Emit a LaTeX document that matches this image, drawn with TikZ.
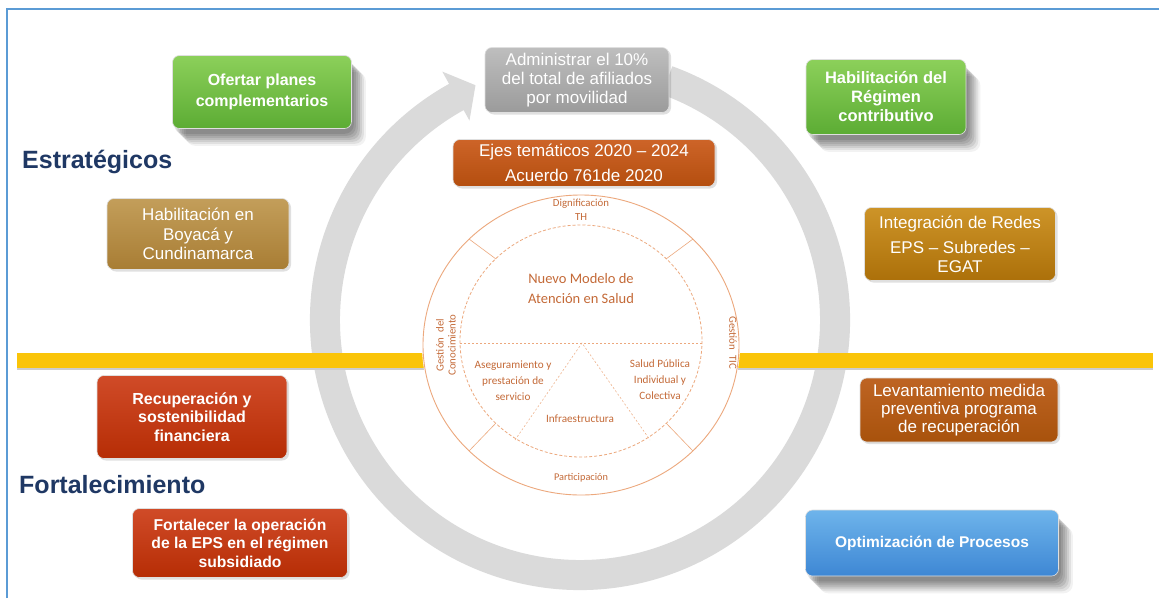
\documentclass[tikz,border=0pt]{standalone}
\usepackage{fontspec}
\setmainfont{Liberation Sans}
\newfontfamily\carl{Carlito}
\usetikzlibrary{shadows}
\pgfdeclarelayer{bglayer}
\pgfdeclarelayer{shadowlayer}
\pgfsetlayers{bglayer,shadowlayer,main}
\definecolor{navy}{RGB}{31,56,100}
\definecolor{framec}{RGB}{91,155,213}
\definecolor{ringc}{RGB}{218,218,218}
\definecolor{barc}{RGB}{250,196,8}
\definecolor{circc}{RGB}{236,168,125}
\definecolor{circt}{RGB}{196,106,56}
\definecolor{gTop}{RGB}{140,208,90}
\definecolor{gBot}{RGB}{92,172,52}
\definecolor{grTop}{RGB}{190,190,190}
\definecolor{grBot}{RGB}{155,155,155}
\definecolor{oTop}{RGB}{205,100,40}
\definecolor{oBot}{RGB}{180,78,15}
\definecolor{tTop}{RGB}{195,158,90}
\definecolor{tBot}{RGB}{168,125,52}
\definecolor{yTop}{RGB}{205,148,40}
\definecolor{yBot}{RGB}{172,112,10}
\definecolor{rTop}{RGB}{208,75,40}
\definecolor{rBot}{RGB}{182,45,5}
\definecolor{bTop}{RGB}{190,100,35}
\definecolor{bBot}{RGB}{168,82,12}
\definecolor{blTop}{RGB}{110,180,235}
\definecolor{blBot}{RGB}{62,135,212}
\tikzset{
  box/.style={rounded corners=7pt, align=center, text=white, inner sep=0pt,
    draw=white!75!gray, line width=0.6pt},
  smallshadow/.style={drop shadow={shadow xshift=2pt, shadow yshift=-2pt, fill=black, opacity=0.12}},
  ctext/.style={text=circt, align=center, inner sep=0pt},
  heading/.style={text=navy, font=\bfseries\fontsize{25}{30}\selectfont, inner sep=0pt, anchor=west},
}
\begin{document}
\begin{tikzpicture}[x=1pt,y=-1pt]
\useasboundingbox (0,0) rectangle (1159,598);
\begin{pgfonlayer}{bglayer}
\fill[white] (0,0) rectangle (1159,598);
\end{pgfonlayer}
% frame
\draw[framec, line width=2pt] (7,598) -- (7,9) -- (1159,9);
% circular arrow
\begin{scope}[shift={(580,320)}]
\fill[ringc] (-70:270) arc[start angle=-70, end angle=241, radius=270]
  -- (241:284) -- (246:257) -- (241:228) -- (241:240)
  arc[start angle=241, end angle=-70, radius=240] -- cycle;
\end{scope}
% yellow bar
\fill[gray!40] (17,357) rectangle (1153,370);
\fill[barc] (17,353) rectangle (1153,368);
% inner circle
\fill[white] (581,345) ellipse[x radius=159, y radius=151];
\draw[circc, line width=0.9pt] (581,345) ellipse[x radius=158, y radius=150];
\draw[circc, line width=0.8pt, dash pattern=on 3pt off 2pt] (581,341) ellipse[x radius=121, y radius=116];
\draw[circc, line width=0.5pt, dash pattern=on 2pt off 2pt] (460,343) -- (702,343);
\draw[circc, line width=0.5pt, dash pattern=on 2pt off 2pt] (515,440) -- (582,343) -- (650,440);
\draw[circc, line width=0.6pt] (469,239) -- (496,259);
\draw[circc, line width=0.6pt] (693,239) -- (666,259);
\draw[circc, line width=0.6pt] (469,451) -- (496,423);
\draw[circc, line width=0.6pt] (693,451) -- (666,423);
% circle texts
\node[ctext, font=\carl\fontsize{10.8}{14}\selectfont] (dig) at (581,210) {Dignificación\\TH};
\node[ctext, font=\carl\fontsize{10.3}{12}\selectfont] (par) at (581,478) {Participación};
\node[ctext, font=\carl\fontsize{10.8}{12}\selectfont, rotate=90] (gc) at (446,345) {Gestión\enspace del\\Conocimiento};
\node[ctext, font=\carl\fontsize{10.8}{12}\selectfont, rotate=-90] (gt) at (733,343) {Gestión\enspace TIC};
\node[ctext, font=\carl\fontsize{14.5}{20}\selectfont] (nm) at (581,289) {Nuevo Modelo de\\Atención en Salud};
\node[ctext, font=\carl\fontsize{11.2}{16}\selectfont] (as) at (513,381) {Aseguramiento y\\prestación de\\servicio};
\node[ctext, font=\carl\fontsize{11.2}{16}\selectfont] (sp) at (660,380) {Salud Pública\\Individual y\\Colectiva};
\node[ctext, font=\carl\fontsize{11.2}{12}\selectfont] (inf) at (580,419) {Infraestructura};
% headings
\node[heading] (est) at (22,162) {Estratégicos};
\node[heading] (fort) at (19,485) {Fortalecimiento};
% boxes
\node[box, top color=gTop, bottom color=gBot, minimum width=179pt, minimum height=73pt,
  font=\bfseries\fontsize{16}{20.5}\selectfont] (ofe) at (262,92) {Ofertar planes\\complementarios};
\node[box, smallshadow, top color=grTop, bottom color=grBot, minimum width=184pt, minimum height=65pt,
  font=\fontsize{17}{19}\selectfont] (adm) at (577,80) {Administrar el 10\%\\del total de afiliados\\por movilidad};
\node[box, top color=gTop, bottom color=gBot, minimum width=160pt, minimum height=75pt,
  font=\bfseries\fontsize{16.5}{19}\selectfont] (hrc) at (886,97) {Habilitación del\\Régimen\\contributivo};
\node[box, smallshadow, top color=oTop, bottom color=oBot, minimum width=262pt, minimum height=47pt,
  font=\fontsize{17}{25}\selectfont] (eje) at (584,163) {Ejes temáticos 2020 – 2024\\Acuerdo 761de 2020};
\node[box, smallshadow, top color=tTop, bottom color=tBot, minimum width=182pt, minimum height=71pt,
  font=\fontsize{17}{19.5}\selectfont] (boy) at (198,234) {Habilitación en\\Boyacá y\\Cundinamarca};
\node[box, smallshadow, top color=yTop, bottom color=yBot, minimum width=191pt, minimum height=73pt,
  font=\fontsize{17}{18.5}\selectfont] (int) at (960,244) {Integración de Redes\\[7pt]EPS – Subredes –\\EGAT};
\node[box, smallshadow, top color=rTop, bottom color=rBot, minimum width=190pt, minimum height=83pt,
  font=\bfseries\fontsize{16}{18.5}\selectfont] (rec) at (192,417) {Recuperación y\\sostenibilidad\\financiera};
\node[box, smallshadow, top color=rTop, bottom color=rBot, minimum width=215pt, minimum height=69pt,
  font=\bfseries\fontsize{15.7}{18.5}\selectfont] (for) at (240,543) {Fortalecer la operación\\de la EPS en el régimen\\subsidiado};
\node[box, smallshadow, top color=bTop, bottom color=bBot, minimum width=198pt, minimum height=64pt,
  font=\fontsize{17}{18.3}\selectfont] (lev) at (959,410) {Levantamiento medida\\preventiva programa\\de recuperación};
\node[box, top color=blTop, bottom color=blBot, minimum width=253pt, minimum height=66pt,
  font=\bfseries\fontsize{15.5}{19}\selectfont] (opt) at (932,543) {Optimización de Procesos};
% soft shadows of the green and blue boxes
\begin{pgfonlayer}{shadowlayer}
\foreach \n in {ofe,hrc,opt}{
  \foreach \d/\o in {2/0.09,4/0.09,6/0.09,8/0.09,10/0.08,12/0.07,14/0.05}{
    \fill[black, opacity=\o, rounded corners=9pt]
      ([shift={(\d,\d+3)}]\n.south west) rectangle ([shift={(\d,\d+3)}]\n.north east);
  }
}
\end{pgfonlayer}
\end{tikzpicture}
\end{document}
